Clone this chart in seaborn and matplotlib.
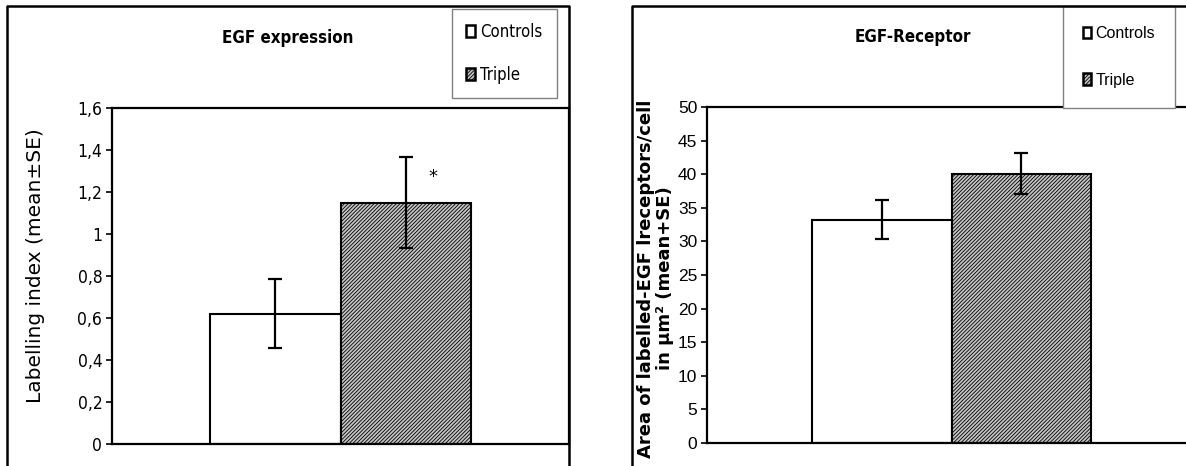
import os
import matplotlib
matplotlib.use("Agg")
import numpy as np
import pandas as pd
import seaborn as sns
import matplotlib.pyplot as plt
from matplotlib import font_manager as fm
from matplotlib.font_manager import FontProperties
from matplotlib.patches import Patch
from matplotlib.lines import Line2D

# ---------------- data ----------------
groups = ["Controls", "Triple"]
egf_means = [0.62, 1.15]
egf_se = [0.165, 0.215]
egf_star_y = 1.27
egf_ticks = [0, 0.2, 0.4, 0.6, 0.8, 1.0, 1.2, 1.4, 1.6]
egf_ticklabels = ["0", "0,2", "0,4", "0,6", "0,8", "1", "1,2", "1,4", "1,6"]
egfr_means = [33.2, 40.1]
egfr_se = [2.9, 3.0]
egfr_ticks = [0, 5, 10, 15, 20, 25, 30, 35, 40, 45, 50]
egfr_ticklabels = [str(t) for t in egfr_ticks]

sns.set_style("white")
plt.rcParams.update({
    "hatch.linewidth": 0.6,
    "text.color": "black",
    "axes.labelcolor": "black",
    "xtick.color": "black",
    "ytick.color": "black",
})

# ---------------- fonts ----------------
def find_file(basenames):
    for f in fm.fontManager.ttflist:
        if os.path.basename(f.fname) in basenames:
            return f.fname
    return None

cond_reg = find_file(["DejaVuSansCondensed.ttf"])
cond_bold = find_file(["DejaVuSansCondensed-Bold.ttf"])

def fp(fname, family, size, weight="normal", shrink=0.9):
    if fname:
        return FontProperties(fname=fname, size=size)
    return FontProperties(family=family, weight=weight, size=size * shrink)

f_title = fp(cond_bold, "DejaVu Sans", 12.2, "bold")
f_tick1 = fp(cond_reg, "DejaVu Sans", 12.5)
f_leg1 = fp(cond_reg, "DejaVu Sans", 12)
f_tick2 = FontProperties(family="Liberation Sans", size=12.5)
f_leg2 = FontProperties(family="Liberation Sans", size=11.5)
f_ylab1 = FontProperties(family="DejaVu Sans", size=14.5)
f_ylab2 = FontProperties(family="DejaVu Sans", weight="bold", size=13)

# ---------------- figure ----------------
W, H = 1186, 466
fig = plt.figure(figsize=(W / 100, H / 100), dpi=100)

def fx(px):
    return px / W

def fy(py):
    return 1 - py / H

ax1 = fig.add_axes([fx(112), fy(444), (569 - 112) / W, (444 - 108) / H])
ax2 = fig.add_axes([fx(707), fy(443), 489 / W, 336 / H])

hatch = "/" * 9
bar_colors = ["white", "#c4c4c4"]

def panel(ax, means, se, width):
    df = pd.DataFrame({"panel": ["x"] * len(groups), "group": groups, "value": means})
    sns.barplot(data=df, x="panel", y="value", hue="group", palette=bar_colors,
                saturation=1, edgecolor="black", linewidth=1.5, width=width,
                errorbar=None, legend=False, ax=ax, zorder=2)
    bars = list(ax.patches)
    bars[1].set_hatch(hatch)
    centers = [b.get_x() + b.get_width() / 2 for b in bars]
    ax.errorbar(centers, means, yerr=se, fmt="none", ecolor="black",
                elinewidth=1.6, capsize=5, capthick=1.6, zorder=3)
    ax.set_xlim(-0.5, 0.5)
    ax.set_xticks([])
    ax.set_xlabel("")
    for s in ax.spines.values():
        s.set_visible(True)
        s.set_color("black")
        s.set_linewidth(1.6)
    ax.tick_params(axis="y", left=True, direction="out", length=4, width=1.2,
                   color="black", labelcolor="black", pad=3)
    return centers

c1 = panel(ax1, egf_means, egf_se, 0.573)
ax1.set_ylim(0, 1.6)
ax1.set_yticks(egf_ticks)
ax1.set_yticklabels(egf_ticklabels, fontproperties=f_tick1)
ax1.set_ylabel("Labelling index (mean\u00b1SE)", fontproperties=f_ylab1, color="black")
ax1.yaxis.set_label_coords(-0.146, 0.53)
ax1.text(c1[1] + 0.06, egf_star_y, "*", ha="center", va="center",
         fontsize=13, family="DejaVu Sans", color="black")

c2 = panel(ax2, egfr_means, egfr_se, 0.57)
ax2.set_ylim(0, 50)
ax2.set_yticks(egfr_ticks)
ax2.set_yticklabels(egfr_ticklabels, fontproperties=f_tick2)
ax2.set_ylabel("Area of labelled-EGF lreceptors/cell\nin \u03bcm\u00b2 (mean+SE)",
               fontproperties=f_ylab2, linespacing=1.05, color="black")
ax2.yaxis.set_label_coords(-0.068, 0.49)

# titles
fig.text(fx(288), fy(38), "EGF expression", ha="center", va="center",
         fontproperties=f_title, color="black")
fig.text(fx(913), fy(37), "EGF-Receptor", ha="center", va="center",
         fontproperties=f_title, color="black")

# outer frames
fig.add_artist(Line2D([fx(7), fx(7), fx(569), fx(569)], [fy(480), fy(6), fy(6), fy(480)],
                      transform=fig.transFigure, color="black", lw=1.8))
fig.add_artist(Line2D([fx(632), fx(632), fx(1200)], [fy(480), fy(6), fy(6)],
                      transform=fig.transFigure, color="black", lw=1.8))

# legends
def handles():
    return [Patch(facecolor="white", edgecolor="black", linewidth=1.8),
            Patch(facecolor=bar_colors[1], edgecolor="black", linewidth=1.8, hatch=hatch)]

leg1 = ax1.legend(handles(), groups, loc="upper left", bbox_to_anchor=(fx(452), fy(9)),
                  bbox_transform=fig.transFigure, borderaxespad=0, fancybox=False,
                  edgecolor="#808080", framealpha=1, prop=f_leg1, handlelength=0.55,
                  handleheight=0.7, handletextpad=0.3, labelspacing=1.5, borderpad=0.85,
                  labelcolor="black")
leg1.get_frame().set_linewidth(1.0)

leg2 = ax2.legend(handles(), groups, loc="upper left", bbox_to_anchor=(fx(1063), fy(6)),
                  bbox_transform=fig.transFigure, borderaxespad=0, fancybox=False,
                  edgecolor="#808080", framealpha=1, prop=f_leg2, handlelength=0.5,
                  handleheight=0.75, handletextpad=0.3, labelspacing=2.0, borderpad=1.25,
                  labelcolor="black")
leg2.get_frame().set_linewidth(1.0)

fig.savefig("out.png", dpi=100)
